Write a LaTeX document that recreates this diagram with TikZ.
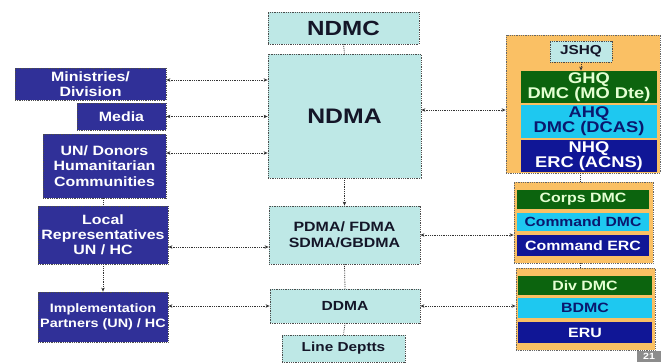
\documentclass[tikz,border=0pt]{standalone}
\usepackage{fontspec}
\setmainfont{Liberation Sans}[FakeStretch=1.18]
\usetikzlibrary{arrows.meta}
\definecolor{leftblue}{RGB}{48,48,152}
\definecolor{paleteal}{RGB}{190,232,230}
\definecolor{orangebg}{RGB}{250,192,100}
\definecolor{dgreen}{RGB}{12,100,14}
\definecolor{lgreen}{RGB}{228,255,210}
\definecolor{brcyan}{RGB}{30,200,240}
\definecolor{navytxt}{RGB}{10,24,110}
\definecolor{navybox}{RGB}{16,22,150}
\definecolor{darktxt}{RGB}{20,22,40}
\tikzset{
  box/.style={draw=black!70, densely dotted, line width=0.8pt, inner sep=1pt, align=center, font=\bfseries},
  leftbox/.style={box, fill=leftblue, text=white},
  midbox/.style={box, fill=paleteal, text=darktxt},
  outerbox/.style={draw=black!60, densely dotted, line width=0.8pt, fill=orangebg},
  gbox/.style={box, fill=dgreen, text=lgreen, draw=none},
  cbox/.style={box, fill=brcyan, text=navytxt, draw=none},
  nbox/.style={box, fill=navybox, text=white, draw=none},
  link/.style={densely dotted, line width=0.8pt, black!80},
  both/.style={link, {Stealth[length=4pt,width=3.5pt]}-{Stealth[length=4pt,width=3.5pt]}},
  fwd/.style={link, -{Stealth[length=4pt,width=3.5pt]}},
}
\newcommand{\fs}[2]{\fontsize{#1}{#2}\selectfont}
\begin{document}
\begin{tikzpicture}[x=1pt,y=1pt]
\useasboundingbox (0,0) rectangle (661,362);
\fill[white] (0,0) rectangle (661,362);
% left column
\node[leftbox, minimum width=151, minimum height=32, font=\bfseries\fs{13.5}{15.5}] (mini) at (90.5,278) {Ministries/\\Division};
\node[leftbox, minimum width=89, minimum height=27, font=\bfseries\fs{13.5}{15.5}] (media) at (121.5,245.5) {Media};
\node[leftbox, minimum width=123, minimum height=64, font=\bfseries\fs{13.5}{15.5}] (un) at (104.5,196) {UN/ Donors\\Humanitarian\\Communities};
\node[leftbox, minimum width=130, minimum height=58, font=\bfseries\fs{13.5}{15}] (local) at (103,127) {Local\\Representatives\\UN / HC};
\node[leftbox, minimum width=130, minimum height=50, font=\bfseries\fs{12.2}{14.5}] (impl) at (103,45) {Implementation\\Partners (UN) / HC};
% centre column
\node[midbox, minimum width=151, minimum height=32, font=\bfseries\fs{20.5}{22}] (ndmc) at (343.5,334) {NDMC};
\node[midbox, minimum width=153, minimum height=124, font=\bfseries\fs{21}{23}] (ndma) at (344.5,246) {NDMA};
\node[midbox, minimum width=151, minimum height=58, font=\bfseries\fs{13.5}{16}] (pdma) at (344.5,127) {PDMA/ FDMA\\SDMA/GBDMA};
\node[midbox, minimum width=150, minimum height=34, font=\bfseries\fs{13.2}{15}] (ddma) at (345,56) {DDMA};
\node[midbox, minimum width=123, minimum height=27, font=\bfseries\fs{13}{15}] (line) at (343.5,13.5) {Line Deptts};
% right column
\node[outerbox, minimum width=154, minimum height=138] (ob1) at (583,258) {};
\node[midbox, minimum width=62, minimum height=21, font=\bfseries\fs{13}{15}] (jshq) at (581,310.5) {JSHQ};
\node[gbox, minimum width=136, minimum height=32, font=\bfseries\fs{15.5}{14}] (ghq) at (589,275) {GHQ\\DMC (MO Dte)};
\node[cbox, minimum width=136, minimum height=33, font=\bfseries\fs{15.5}{14}] (ahq) at (589,240.5) {AHQ\\DMC (DCAS)};
\node[nbox, minimum width=136, minimum height=32, font=\bfseries\fs{15.5}{14}] (nhq) at (589,206) {NHQ\\ERC (ACNS)};
\node[outerbox, minimum width=139, minimum height=81] (ob2) at (583.5,139.5) {};
\node[gbox, minimum width=132, minimum height=19, font=\bfseries\fs{13.5}{15}] (corps) at (583,162.5) {Corps DMC};
\node[cbox, minimum width=132, minimum height=18, font=\bfseries\fs{13.3}{15}] (cmddmc) at (583,140) {Command DMC};
\node[nbox, minimum width=132, minimum height=21, font=\bfseries\fs{13.5}{15}] (cmderc) at (583,116.5) {Command ERC};
\node[outerbox, minimum width=139, minimum height=82] (ob3) at (585.5,53) {};
\node[gbox, minimum width=134, minimum height=19, font=\bfseries\fs{13.5}{15}] (div) at (585,76.5) {Div DMC};
\node[cbox, minimum width=134, minimum height=20, font=\bfseries\fs{13.5}{15}] (bdmc) at (585,54) {BDMC};
\node[nbox, minimum width=134, minimum height=21, font=\bfseries\fs{13.5}{15}] (eru) at (585,29.5) {ERU};
\node[fill=black!45, text=white, font=\bfseries\fs{9}{10}, minimum width=24, minimum height=11, inner sep=0pt] (page) at (649,5.5) {21};
% connectors
\draw[both] ([yshift=4]mini.east) -- ([yshift=4]mini.east -| ndma.west);
\draw[both] (media.east) -- (media.east -| ndma.west);
\draw[both] ([yshift=13]un.east) -- ([yshift=13]un.east -| ndma.west);
\draw[both] ([yshift=-12]local.east) -- ([yshift=-12]local.east -| pdma.west);
\draw[both] (ddma.west -| impl.east) -- (ddma.west);
\draw[both] ([yshift=6]ndma.east) -- ([yshift=6]ndma.east -| ob1.west);
\draw[both] (pdma.east) -- (pdma.east -| ob2.west);
\draw[both] (ddma.east) -- (ddma.east -| ob3.west);
\draw[link] (ndmc.south) -- (ndma.north);
\draw[fwd] (ndma.south) -- (pdma.north);
\draw[link] (pdma.south) -- (ddma.north);
\draw[link] (ddma.south) -- (line.north);
\draw[link] (un.south -| local.north) -- (local.north);
\draw[fwd] (local.south) -- (impl.north);
\draw[fwd] (jshq.south) -- (jshq.south |- ghq.north);
\draw[link] ([xshift=-3]ob1.south) -- ([xshift=-3]ob1.south |- ob2.north);
\draw[link] ([xshift=-3]ob2.south) -- ([xshift=-3]ob2.south |- ob3.north);
\end{tikzpicture}
\end{document}
